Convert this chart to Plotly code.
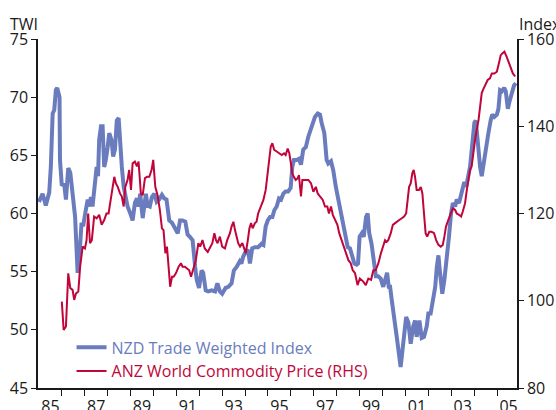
import plotly.graph_objects as go

# ---- Data ----
twi_years = [1985.00, 1985.16, 1985.30, 1985.45, 1985.52, 1985.60, 1985.67, 1985.74, 1985.80, 1985.90,
             1985.92, 1986.00, 1986.10, 1986.18, 1986.28, 1986.37, 1986.47, 1986.58, 1986.69, 1986.76,
             1986.86, 1986.93, 1987.02, 1987.13, 1987.20, 1987.27, 1987.34, 1987.46, 1987.52, 1987.58,
             1987.63, 1987.71, 1987.78, 1987.85, 1987.92, 1988.00, 1988.07, 1988.17, 1988.24, 1988.32,
             1988.40, 1988.48, 1988.55, 1988.62, 1988.70, 1988.77, 1988.87, 1988.99, 1989.09, 1989.19,
             1989.28, 1989.35, 1989.42, 1989.53, 1989.60, 1989.67, 1989.74, 1989.84, 1989.93, 1990.04,
             1990.14, 1990.25, 1990.37, 1990.47, 1990.57, 1990.69, 1990.81, 1990.91, 1991.06, 1991.16,
             1991.27, 1991.39, 1991.49, 1991.59, 1991.71, 1991.82, 1991.89, 1991.99, 1992.10, 1992.17,
             1992.28, 1992.39, 1992.54, 1992.69, 1992.79, 1992.90, 1993.00, 1993.15, 1993.27, 1993.41,
             1993.51, 1993.63, 1993.77, 1993.84, 1993.92, 1994.02, 1994.11, 1994.17, 1994.21, 1994.31,
             1994.43, 1994.57, 1994.72, 1994.80, 1994.90, 1994.99, 1995.09, 1995.19, 1995.28, 1995.38,
             1995.48, 1995.57, 1995.67, 1995.77, 1995.88, 1995.99, 1996.06, 1996.13, 1996.25, 1996.35,
             1996.44, 1996.54, 1996.65, 1996.76, 1996.83, 1996.94, 1997.05, 1997.17, 1997.27, 1997.34,
             1997.46, 1997.56, 1997.63, 1997.75, 1997.85, 1997.96, 1998.07, 1998.19, 1998.29, 1998.39,
             1998.48, 1998.58, 1998.66, 1998.77, 1998.87, 1998.93, 1999.00, 1999.10, 1999.18, 1999.28,
             1999.35, 1999.42, 1999.52, 1999.61, 1999.71, 1999.81, 1999.92, 2000.03, 2000.13, 2000.20,
             2000.27, 2000.33, 2000.40, 2000.47, 2000.62, 2000.79, 2000.91, 2001.03, 2001.13, 2001.23,
             2001.34, 2001.42, 2001.49, 2001.61, 2001.71, 2001.81, 2001.93, 2002.00, 2002.10, 2002.22,
             2002.30, 2002.37, 2002.44, 2002.51, 2002.61, 2002.70, 2002.80, 2002.90, 2002.99, 2003.07,
             2003.17, 2003.24, 2003.34, 2003.43, 2003.48, 2003.57, 2003.65, 2003.75, 2003.82, 2003.92,
             2004.01, 2004.07, 2004.16, 2004.26, 2004.33, 2004.45, 2004.55, 2004.62, 2004.72, 2004.79,
             2004.88, 2004.99, 2005.06, 2005.13, 2005.21, 2005.31, 2005.38, 2005.47, 2005.54, 2005.64,
             2005.74, 2005.82]
twi_values = [61.0, 61.7, 60.7, 61.8, 64.0, 68.6, 68.9, 70.6, 70.8, 70.0,
              64.6, 62.4, 62.6, 61.2, 63.9, 63.5, 61.7, 59.7, 54.9, 56.0,
              59.2, 58.9, 60.0, 61.2, 60.6, 61.4, 60.6, 62.9, 64.0, 63.2,
              66.3, 67.5, 67.5, 64.0, 64.6, 65.7, 66.9, 66.3, 64.9, 65.5,
              68.0, 68.2, 65.7, 64.0, 62.3, 61.4, 60.6, 60.0, 59.4, 60.9,
              61.3, 60.6, 61.7, 59.6, 60.6, 61.7, 60.7, 60.6, 61.4, 61.7,
              61.0, 61.2, 61.6, 61.3, 61.2, 59.4, 59.2, 58.9, 58.3, 59.4,
              59.4, 59.3, 58.2, 58.0, 57.7, 55.4, 54.3, 53.6, 55.1, 54.9,
              53.4, 53.3, 53.4, 53.3, 54.0, 53.3, 53.1, 53.6, 53.7, 54.0,
              55.1, 55.4, 55.9, 55.7, 56.3, 56.7, 56.9, 56.3, 55.7, 57.0,
              57.1, 57.1, 57.4, 57.3, 58.9, 59.4, 59.7, 59.7, 60.3, 60.6,
              61.3, 61.2, 61.7, 61.9, 61.9, 62.2, 64.0, 64.6, 64.6, 64.7,
              64.2, 65.5, 65.7, 66.6, 67.0, 67.5, 68.3, 68.6, 68.5, 67.8,
              66.9, 64.6, 64.3, 64.5, 63.7, 62.3, 61.2, 60.0, 58.9, 57.7,
              57.1, 57.0, 56.3, 55.7, 55.6, 55.7, 58.0, 58.3, 58.0, 59.7,
              60.0, 58.3, 57.4, 56.0, 54.6, 54.6, 54.4, 53.7, 54.4, 54.9,
              53.7, 53.7, 52.6, 51.7, 49.4, 46.8, 49.4, 51.1, 50.6, 48.8,
              50.3, 50.8, 49.4, 50.8, 49.3, 49.4, 50.3, 51.4, 51.4, 52.6,
              53.7, 55.4, 56.4, 54.9, 53.1, 54.3, 56.0, 58.0, 60.0, 60.9,
              60.6, 61.2, 60.9, 61.6, 62.3, 62.7, 62.3, 63.5, 64.0, 66.0,
              67.8, 68.0, 65.7, 64.0, 63.2, 64.9, 66.3, 66.9, 68.0, 68.5,
              68.3, 68.5, 69.0, 70.6, 70.5, 70.8, 70.5, 69.0, 69.6, 70.3,
              71.0, 71.2]

anz_years = [1986.00, 1986.08, 1986.18, 1986.28, 1986.37, 1986.47, 1986.54, 1986.62, 1986.72, 1986.80,
             1986.91, 1987.01, 1987.08, 1987.15, 1987.23, 1987.31, 1987.41, 1987.52, 1987.63, 1987.74,
             1987.85, 1987.95, 1988.04, 1988.14, 1988.21, 1988.29, 1988.36, 1988.44, 1988.54, 1988.62,
             1988.70, 1988.77, 1988.87, 1988.94, 1989.02, 1989.09, 1989.19, 1989.28, 1989.35, 1989.45,
             1989.53, 1989.63, 1989.72, 1989.82, 1989.92, 1989.99, 1990.08, 1990.18, 1990.28, 1990.37,
             1990.44, 1990.52, 1990.59, 1990.66, 1990.73, 1990.81, 1990.88, 1990.98, 1991.10, 1991.20,
             1991.27, 1991.37, 1991.49, 1991.56, 1991.64, 1991.71, 1991.78, 1991.85, 1991.96, 1992.04,
             1992.14, 1992.24, 1992.37, 1992.47, 1992.57, 1992.66, 1992.73, 1992.80, 1992.90, 1993.00,
             1993.12, 1993.22, 1993.34, 1993.41, 1993.49, 1993.56, 1993.63, 1993.70, 1993.78, 1993.88,
             1993.96, 1994.03, 1994.12, 1994.19, 1994.26, 1994.33, 1994.43, 1994.50, 1994.57, 1994.68,
             1994.80, 1994.90, 1994.99, 1995.04, 1995.12, 1995.19, 1995.27, 1995.38, 1995.48, 1995.60,
             1995.70, 1995.77, 1995.86, 1995.93, 1996.00, 1996.06, 1996.13, 1996.21, 1996.30, 1996.35,
             1996.44, 1996.50, 1996.62, 1996.76, 1996.88, 1996.98, 1997.09, 1997.17, 1997.27, 1997.39,
             1997.49, 1997.59, 1997.66, 1997.75, 1997.83, 1997.93, 1998.03, 1998.11, 1998.22, 1998.32,
             1998.41, 1998.51, 1998.61, 1998.70, 1998.80, 1998.91, 1999.01, 1999.16, 1999.27, 1999.38,
             1999.50, 1999.60, 1999.70, 1999.82, 1999.93, 2000.03, 2000.11, 2000.18, 2000.25, 2000.36,
             2000.45, 2000.55, 2000.65, 2000.73, 2000.84, 2000.94, 2001.03, 2001.10, 2001.16, 2001.23,
             2001.30, 2001.36, 2001.42, 2001.49, 2001.59, 2001.67, 2001.74, 2001.81, 2001.88, 2001.95,
             2002.04, 2002.14, 2002.25, 2002.34, 2002.44, 2002.54, 2002.63, 2002.70, 2002.77, 2002.87,
             2002.98, 2003.07, 2003.17, 2003.24, 2003.34, 2003.43, 2003.50, 2003.60, 2003.68, 2003.75,
             2003.82, 2003.89, 2003.97, 2004.04, 2004.11, 2004.19, 2004.26, 2004.33, 2004.40, 2004.51,
             2004.59, 2004.69, 2004.77, 2004.88, 2004.99, 2005.06, 2005.16, 2005.23, 2005.32, 2005.42,
             2005.52, 2005.61, 2005.69, 2005.79]
anz_values = [99.8, 93.3, 94.1, 106.3, 102.9, 102.5, 100.2, 101.7, 102.1, 107.8,
              112.4, 112.0, 113.9, 120.0, 113.2, 113.9, 119.3, 118.9, 119.7, 117.4,
              118.5, 120.0, 120.0, 123.1, 125.4, 128.4, 126.9, 126.1, 124.6, 123.9,
              121.6, 126.1, 127.7, 130.0, 125.4, 131.5, 131.9, 130.8, 131.9, 124.6,
              124.2, 128.1, 128.4, 128.4, 130.0, 132.3, 126.1, 124.2, 120.8, 116.6,
              116.2, 110.9, 112.4, 107.0, 103.2, 105.5, 105.5, 106.3, 107.8, 108.6,
              107.8, 107.8, 107.4, 107.0, 105.5, 107.0, 107.8, 109.3, 113.2, 112.4,
              113.9, 112.0, 111.2, 112.4, 113.2, 115.5, 113.9, 113.2, 114.7, 112.4,
              112.0, 113.9, 115.5, 117.0, 118.1, 116.2, 114.7, 113.2, 112.4, 113.2,
              112.0, 110.9, 113.9, 116.6, 117.8, 116.6, 117.8, 118.1, 120.0, 121.6,
              123.1, 125.4, 129.2, 132.3, 135.3, 136.1, 134.6, 134.2, 133.8, 133.4,
              133.8, 133.4, 134.9, 133.8, 131.5, 129.2, 128.4, 127.7, 128.1, 128.8,
              123.9, 127.7, 127.7, 127.7, 126.9, 125.0, 126.1, 124.6, 123.9, 123.1,
              121.6, 121.6, 120.0, 121.6, 119.7, 118.5, 117.4, 115.5, 113.9, 112.4,
              110.9, 109.3, 108.6, 107.0, 106.3, 103.6, 105.1, 104.4, 103.6, 105.1,
              104.8, 107.0, 107.0, 108.6, 110.9, 112.4, 113.9, 113.5, 113.9, 115.5,
              117.4, 117.8, 118.1, 118.5, 118.9, 119.3, 120.0, 123.1, 126.1, 126.9,
              129.2, 130.0, 128.4, 125.4, 125.4, 126.1, 124.6, 120.0, 115.5, 114.7,
              115.8, 115.8, 115.5, 113.9, 112.8, 112.4, 112.8, 114.7, 117.0, 118.5,
              120.0, 121.2, 120.8, 120.0, 119.7, 119.3, 120.4, 122.3, 125.4, 127.7,
              130.0, 130.8, 134.6, 136.9, 139.1, 141.4, 144.5, 147.6, 148.5, 149.8,
              150.6, 151.0, 152.1, 152.1, 152.5, 154.0, 156.3, 156.7, 157.1, 155.9,
              154.4, 153.3, 152.1, 151.4]

label_years = [1985.5 + 2 * i for i in range(11)]
label_text = ["85", "87", "89", "91", "93", "95", "97", "99", "01", "03", "05"]
tick_years = list(range(1986, 2006))

left_ticks = [45, 50, 55, 60, 65, 70, 75]
right_ticks = [80, 100, 120, 140, 160]

BLUE = "#6a7cbe"
RED = "#c0053a"
AXIS = "#1a1a1a"
FONT = "Open Sans"

fig = go.Figure()
fig.add_trace(go.Scatter(
    x=twi_years, y=twi_values, mode="lines",
    name=f"<span style='color:{BLUE}'>NZD Trade Weighted Index</span>",
    line=dict(color=BLUE, width=4), yaxis="y"))
fig.add_trace(go.Scatter(
    x=anz_years, y=anz_values, mode="lines",
    name=f"<span style='color:{RED}'>ANZ World Commodity Price (RHS)</span>",
    line=dict(color=RED, width=2), yaxis="y2"))

fig.update_layout(
    width=556, height=410,
    margin=dict(l=38, r=39, t=39, b=22, autoexpand=False),
    paper_bgcolor="white", plot_bgcolor="white",
    font=dict(family=FONT, size=16, color=AXIS),
    showlegend=True,
    legend=dict(x=0.07, y=0.165, xanchor="left", yanchor="top",
                bgcolor="rgba(0,0,0,0)", borderwidth=0,
                font=dict(family=FONT, size=16), tracegroupgap=0),
    xaxis=dict(range=[1984.96, 2005.87], showgrid=False, zeroline=False, automargin=False,
               showline=True, linecolor=AXIS, linewidth=1.5,
               tickmode="array", tickvals=label_years, ticktext=label_text,
               ticks="outside", ticklen=3, tickcolor="rgba(0,0,0,0)",
               minor=dict(tickmode="array", tickvals=tick_years, ticks="outside",
                          ticklen=6, tickcolor=AXIS, tickwidth=1.2, showgrid=False),
               tickfont=dict(size=16)),
    yaxis=dict(range=[45, 75], showgrid=False, zeroline=False, automargin=False,
               showline=True, linecolor=AXIS, linewidth=1.5,
               tickmode="array", tickvals=left_ticks,
               ticks="outside", ticklen=5, tickcolor=AXIS, tickwidth=1.2,
               tickfont=dict(size=16)),
    yaxis2=dict(range=[80, 160], overlaying="y", side="right", showgrid=False,
                zeroline=False, showline=True, linecolor=AXIS, linewidth=1.5,
                automargin=False,
                tickmode="array", tickvals=right_ticks,
                ticks="outside", ticklen=5, tickcolor=AXIS, tickwidth=1.2,
                tickfont=dict(size=16)),
    annotations=[
        dict(text="TWI", xref="paper", yref="paper", x=-0.063, y=1.0,
             xanchor="left", yanchor="bottom", showarrow=False,
             font=dict(family=FONT, size=16, color=AXIS), yshift=2),
        dict(text="Index", xref="paper", yref="paper", x=1.0, y=1.0,
             xanchor="left", yanchor="bottom", showarrow=False,
             font=dict(family=FONT, size=16, color=AXIS), yshift=2),
    ],
)

fig.write_html("out.html",
               config={"displayModeBar": False},
               post_script="document.body.style.margin='0px';document.body.style.padding='0px';")
